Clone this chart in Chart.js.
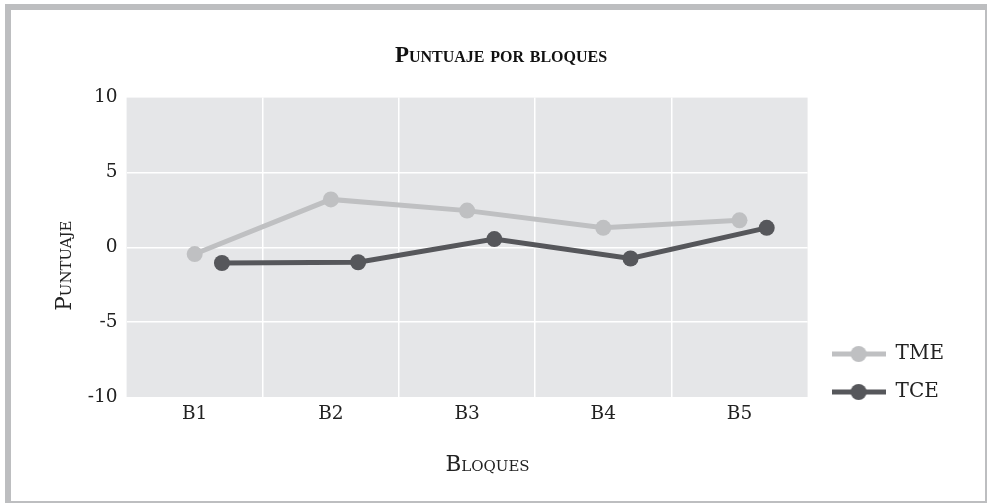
<!DOCTYPE html>
<html>
<head>
<meta charset="utf-8">
<script src="https://cdn.jsdelivr.net/npm/chart.js@4.4.1/dist/chart.umd.min.js"></script>
<style>
  html, body { margin: 0; padding: 0; background: #fff; }
  #frame {
    position: absolute; left: 5px; top: 4px; width: 974px; height: 491px;
    border-left: 6px solid #bdbec0; border-top: 6px solid #bdbec0;
    border-right: 2px solid #bdbec0; border-bottom: 2px solid #bdbec0;
    background: #fff;
  }
  #chart { display: block; }
</style>
</head>
<body>
<div id="frame"><canvas id="chart" width="974" height="491"></canvas></div>
<script>
const categories = ['B1', 'B2', 'B3', 'B4', 'B5'];
const tmeValues = [-0.45, 3.2, 2.45, 1.3, 1.8];
const tceValues = [-1.05, -1.0, 0.55, -0.75, 1.3];
const yTicks = [-10, -5, 0, 5, 10];

const TME_COLOR = '#bfc0c2';
const TCE_COLOR = '#56575b';
const SERIF = "'DejaVu Serif', serif";

// legend sample: thick line with a dot in the middle
function legendSample(color) {
    const c = document.createElement('canvas');
    c.width = 54; c.height = 18;
    const g = c.getContext('2d');
    g.strokeStyle = color;
    g.lineWidth = 5;
    g.beginPath(); g.moveTo(0, 9); g.lineTo(54, 9); g.stroke();
    g.fillStyle = color;
    g.beginPath(); g.arc(27, 9, 8, 0, Math.PI * 2); g.fill();
    return c;
}

const ctx = document.getElementById('chart').getContext('2d');

// Chart.js drops 'small-caps' from font.style, so it is passed through font.weight
// and turned into fontVariantCaps here
const fontDesc = Object.getOwnPropertyDescriptor(CanvasRenderingContext2D.prototype, 'font');
Object.defineProperty(ctx, 'font', {
    get() { return fontDesc.get.call(this); },
    set(v) {
        const sc = /small-caps/.test(v);
        fontDesc.set.call(this, v);
        this.fontVariantCaps = sc ? 'small-caps' : 'normal';
    }
});

const plotBg = {
    id: 'plotBg',
    beforeDraw(chart) {
        const a = chart.chartArea, c = chart.ctx;
        c.save();
        c.fillStyle = '#e5e6e8';
        c.fillRect(a.left, a.top, a.right - a.left, a.bottom - a.top);
        c.restore();
    },
    afterLayout(chart) {
        // nudge legend down/right next to the lower part of the plot
        const lg = chart.legend;
        lg.top += 23; lg.bottom += 23;
        lg.left += 6; lg.right += 6;
        // title sits centred on the whole frame, not on the padded area
        const tb = chart.titleBlock;
        tb.left += 9; tb.right += 9;
    }
};

const tmePoints = tmeValues.map((v, i) => ({ x: i + 1, y: v }));
const tcePoints = tceValues.map((v, i) => ({ x: i + 1.2, y: v }));

const chart = new Chart(ctx, {
    type: 'line',
    data: {
        datasets: [{
            label: 'TME',
            data: tmePoints,
            borderColor: TME_COLOR,
            backgroundColor: TME_COLOR,
            borderWidth: 5,
            pointRadius: 8,
            pointBorderWidth: 0,
            tension: 0
        }, {
            label: 'TCE',
            data: tcePoints,
            borderColor: TCE_COLOR,
            backgroundColor: TCE_COLOR,
            borderWidth: 5,
            pointRadius: 8,
            pointBorderWidth: 0,
            tension: 0
        }]
    },
    options: {
        responsive: false,
        animation: false,
        layout: { padding: { left: 25, right: 37, top: 0, bottom: 23 } },
        plugins: {
            tooltip: { enabled: false },
            title: {
                display: true,
                text: 'Puntuaje por bloques',
                color: '#111',
                font: { family: "'Liberation Serif', serif", size: 23, weight: 'small-caps bold' },
                padding: { top: 32, bottom: 28 }
            },
            legend: {
                position: 'right',
                align: 'end',
                fullSize: false,
                labels: {
                    color: '#222',
                    font: { family: SERIF, size: 20 },
                    usePointStyle: true,
                    pointStyleWidth: 54,
                    boxHeight: 18,
                    padding: 18,
                    generateLabels(chart) {
                        return chart.data.datasets.map((ds, i) => ({
                            text: ds.label,
                            pointStyle: legendSample(ds.borderColor),
                            fillStyle: ds.borderColor,
                            strokeStyle: ds.borderColor,
                            lineWidth: 0,
                            datasetIndex: i,
                            fontColor: '#222'
                        }));
                    }
                }
            }
        },
        scales: {
            x: {
                type: 'linear',
                min: 0.5,
                max: 5.5,
                afterBuildTicks(axis) {
                    const t = [];
                    for (let v = 0.5; v <= 5.5; v += 0.5) t.push({ value: v });
                    axis.ticks = t;
                },
                border: { display: false },
                grid: {
                    drawTicks: false,
                    lineWidth: 1.5,
                    color(c) {
                        const v = c.tick ? c.tick.value : 0;
                        return (!Number.isInteger(v) && v > 0.5 && v < 5.5) ? '#ffffff' : 'rgba(0,0,0,0)';
                    }
                },
                ticks: {
                    autoSkip: false,
                    maxRotation: 0,
                    padding: 6,
                    color: '#222',
                    font: { family: SERIF, size: 18.5 },
                    callback(v) { return Number.isInteger(v) ? categories[v - 1] : ''; }
                },
                title: {
                    display: true,
                    text: '\u2003\u2002\u2009\u2009Bloques',
                    color: '#222',
                    font: { family: SERIF, size: 21.5, weight: 'small-caps' },
                    padding: { top: 21, bottom: 0 }
                }
            },
            y: {
                min: -10,
                max: 10,
                afterBuildTicks(axis) { axis.ticks = yTicks.map(v => ({ value: v })); },
                border: { display: false },
                grid: {
                    drawTicks: false,
                    lineWidth: 1.5,
                    color(c) {
                        const v = c.tick ? c.tick.value : 0;
                        return (v > -10 && v < 10) ? '#ffffff' : 'rgba(0,0,0,0)';
                    }
                },
                ticks: {
                    padding: 9,
                    color: '#222',
                    font: { family: SERIF, size: 18.5 }
                },
                title: {
                    display: true,
                    text: 'Puntuaje\u2003\u2002\u2009',
                    color: '#222',
                    font: { family: SERIF, size: 21.5, weight: 'small-caps' },
                    padding: { top: 17, bottom: 0 }
                }
            }
        }
    },
    plugins: [plotBg]
});
</script>
</body>
</html>
